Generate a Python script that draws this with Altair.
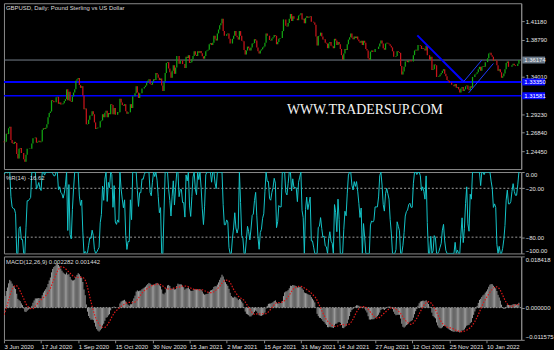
import json
import altair as alt
import numpy as np
import pandas as pd

# ---------------- data ----------------
# daily closes before the visible window (only used so the indicators are warmed up)
warmup_close = [1.2410, 1.2370, 1.2270, 1.2270, 1.2360, 1.2400, 1.2460, 1.2450, 1.2490, 1.2560,
                1.2470, 1.2430, 1.2490, 1.2420, 1.2300, 1.2310, 1.2340, 1.2360, 1.2420, 1.2410,
                1.2430, 1.2590, 1.2490, 1.2440, 1.2430, 1.2340, 1.2380, 1.2410, 1.2340, 1.2280,
                1.2220, 1.2200, 1.2120, 1.2240, 1.2230, 1.2220, 1.2200, 1.2170, 1.2200, 1.2330,
                1.2270, 1.2330, 1.2350, 1.2490, 1.2570]

# visible daily closes, 3 Jun 2020 -> 17 Feb 2022
close_2020 = [
    # Jun
    1.2560, 1.2565, 1.2670, 1.2665, 1.2740, 1.2760, 1.2590, 1.2550, 1.2540, 1.2565,
    1.2550, 1.2410, 1.2350, 1.2475, 1.2485, 1.2420, 1.2420, 1.2340, 1.2310, 1.2400,
    # Jul
    1.2475, 1.2475, 1.2480, 1.2475, 1.2545, 1.2610, 1.2610, 1.2620, 1.2555, 1.2565,
    1.2580, 1.2560, 1.2570, 1.2720, 1.2740, 1.2730, 1.2745, 1.2790, 1.2880, 1.2935,
    1.2955, 1.3100, 1.3090,
    # Aug
    1.3075, 1.3075, 1.3140, 1.3145, 1.3055, 1.3070, 1.3045, 1.3050, 1.3060, 1.3090,
    1.3115, 1.3240, 1.3100, 1.3210, 1.3090, 1.3080, 1.3150, 1.3200, 1.3240, 1.3350,
    1.3370,
    # Sep
    1.3385, 1.3295, 1.3260, 1.3280, 1.3160, 1.2985, 1.2995, 1.2790, 1.2795, 1.2850,
    1.2905, 1.2900, 1.2960, 1.2920, 1.2815, 1.2730, 1.2740, 1.2750, 1.2750, 1.2830,
    1.2840, 1.2920,
    # Oct
    1.2880, 1.2940, 1.2965, 1.2880, 1.2935, 1.2920, 1.3050, 1.3040, 1.2920, 1.3000,
    1.2915, 1.2915, 1.2950, 1.2945, 1.3120, 1.3070, 1.3040, 1.3030, 1.3050, 1.2960,
    1.2925, 1.2945,
    # Nov
    1.2945, 1.3050, 1.3000, 1.3150, 1.3150, 1.3190, 1.3280, 1.3200, 1.3130, 1.3190,
    1.3190, 1.3250, 1.3250, 1.3270, 1.3290, 1.3330, 1.3350, 1.3370, 1.3310, 1.3300,
    1.3340,
    # Dec
    1.3370, 1.3360, 1.3450, 1.3430, 1.3390, 1.3360, 1.3380, 1.3290, 1.3220, 1.3340,
    1.3450, 1.3580, 1.3590, 1.3510, 1.3460, 1.3390, 1.3480, 1.3550, 1.3440, 1.3520,
    1.3670, 1.3670,
]
close_2021 = [
    # Jan
    1.3570, 1.3610, 1.3610, 1.3565, 1.3565, 1.3515, 1.3660, 1.3645, 1.3680, 1.3580,
    1.3590, 1.3630, 1.3670, 1.3730, 1.3685, 1.3670, 1.3730, 1.3710, 1.3735, 1.3705,
    # Feb
    1.3665, 1.3635, 1.3670, 1.3730, 1.3740, 1.3750, 1.3820, 1.3835, 1.3810, 1.3840,
    1.3930, 1.3890, 1.3870, 1.3960, 1.4010, 1.4065, 1.4090, 1.4150, 1.3990, 1.3930,
    # Mar
    1.3930, 1.3950, 1.3960, 1.3890, 1.3830, 1.3830, 1.3890, 1.3930, 1.3990, 1.3930,
    1.3910, 1.3880, 1.3990, 1.3930, 1.3865, 1.3860, 1.3745, 1.3690, 1.3740, 1.3790,
    1.3770, 1.3740, 1.3780,
    # Apr
    1.3830, 1.3835, 1.3885, 1.3870, 1.3780, 1.3730, 1.3700, 1.3740, 1.3755, 1.3780,
    1.3790, 1.3840, 1.3960, 1.3930, 1.3930, 1.3875, 1.3870, 1.3895, 1.3910, 1.3940,
    1.3930, 1.3820,
    # May
    1.3850, 1.3890, 1.3900, 1.3900, 1.3990, 1.4140, 1.4140, 1.4060, 1.4050, 1.4095,
    1.4150, 1.4210, 1.4120, 1.4180, 1.4150, 1.4150, 1.4150, 1.4130, 1.4190, 1.4200,
    1.4220,
    # Jun
    1.4140, 1.4150, 1.4090, 1.4160, 1.4180, 1.4160, 1.4170, 1.4180, 1.4110, 1.4110,
    1.4100, 1.4070, 1.3920, 1.3805, 1.3925, 1.3930, 1.3970, 1.3920, 1.3880, 1.3885,
    1.3840, 1.3830,
    # Jul
    1.3770, 1.3830, 1.3850, 1.3800, 1.3795, 1.3770, 1.3890, 1.3870, 1.3810, 1.3850,
    1.3820, 1.3760, 1.3680, 1.3620, 1.3700, 1.3760, 1.3745, 1.3820, 1.3880, 1.3910,
    1.3960, 1.3905,
    # Aug
    1.3885, 1.3920, 1.3900, 1.3920, 1.3880, 1.3860, 1.3840, 1.3865, 1.3810, 1.3865,
    1.3840, 1.3760, 1.3740, 1.3640, 1.3620, 1.3725, 1.3740, 1.3720, 1.3720, 1.3760,
    1.3760, 1.3760,
    # Sep
    1.3790, 1.3830, 1.3870, 1.3830, 1.3770, 1.3750, 1.3830, 1.3840, 1.3830, 1.3820,
    1.3800, 1.3780, 1.3730, 1.3660, 1.3660, 1.3670, 1.3730, 1.3720, 1.3710, 1.3540,
    1.3430, 1.3470,
    # Oct
    1.3530, 1.3600, 1.3610, 1.3590, 1.3610, 1.3615, 1.3600, 1.3600, 1.3680, 1.3740,
    1.3750, 1.3740, 1.3810, 1.3810, 1.3800, 1.3760, 1.3770, 1.3760, 1.3740, 1.3800,
    1.3680,
    # Nov
    1.3680, 1.3620, 1.3660, 1.3490, 1.3500, 1.3560, 1.3550, 1.3400, 1.3400, 1.3410,
    1.3430, 1.3450, 1.3480, 1.3500, 1.3440, 1.3410, 1.3360, 1.3350, 1.3330, 1.3330,
    1.3300, 1.3300,
    # Dec
    1.3280, 1.3310, 1.3260, 1.3270, 1.3240, 1.3200, 1.3250, 1.3270, 1.3220, 1.3240,
    1.3280, 1.3290, 1.3240, 1.3230, 1.3280, 1.3260, 1.3400, 1.3400, 1.3430, 1.3440,
    1.3460, 1.3500, 1.3530,
]
close_2022 = [
    # Jan
    1.3480, 1.3530, 1.3540, 1.3530, 1.3590, 1.3590, 1.3640, 1.3700, 1.3710, 1.3680,
    1.3660, 1.3610, 1.3620, 1.3610, 1.3550, 1.3480, 1.3500, 1.3460, 1.3390, 1.3410,
    1.3445,
    # Feb
    1.3500, 1.3580, 1.3600, 1.3530, 1.3530, 1.3530, 1.3550, 1.3570, 1.3550, 1.3540,
    1.3540, 1.3570, 1.3617,
]
close = close_2020 + close_2021 + close_2022

date_labels = ["3 Jun 2020", "17 Jul 2020", "1 Sep 2020", "15 Oct 2020", "30 Nov 2020",
               "15 Jan 2021", "2 Mar 2021", "15 Apr 2021", "31 May 2021", "14 Jul 2021",
               "27 Aug 2021", "12 Oct 2021", "25 Nov 2021", "10 Jan 2022"]
bars_per_label = 32

price_ticks = [1.41180, 1.38790, 1.34010, 1.29230, 1.26840, 1.24450]
price_domain = [1.22151, 1.43479]
current_price = 1.36174
thick_level = 1.33350
thin_level = 1.31581

# trend lines: bar index / price of both ends
thick_trend = {"i0": [356.4], "p0": [1.3935], "i1": [396.3], "p1": [1.3339]}
thin_trends = {"i0": [396.3, 400.6], "p0": [1.3339, 1.3194], "i1": [412.0, 422.0], "p1": [1.3616, 1.3573]}

wr_levels = [-20, -80]
wr_ticks = [0, -20, -80, -100]
macd_ticks = [0.018418, 0.0, -0.011575]

title_text = "GBPUSD, Daily:  Pound Sterling vs US Dollar"
wr_text = "%R(14) -16.62"
macd_text = "MACD(12,26,9) 0.002282 0.001442"
watermark = "WWW.TRADERSUP.COM"

# ---------------- indicators (computed from the closes) ----------------
full = pd.Series(warmup_close + close, dtype=float)
n0 = len(warmup_close)
ema12 = full.ewm(span=12, adjust=False).mean()
ema26 = full.ewm(span=26, adjust=False).mean()
macd = ema12 - ema26
signal = macd.rolling(9).mean()
hh = full.rolling(14).max()
ll = full.rolling(14).min()
wr = -100 * (hh - full) / (hh - ll)

df = pd.DataFrame({
    "i": np.arange(len(close)),
    "close": close,
    "open": full.shift(1).values[n0:],
    "macd": macd.values[n0:],
    "signal": signal.values[n0:],
    "wr": wr.values[n0:],
})
df["dir"] = np.where(df["close"] >= df["open"], "up", "down")

# ---------------- styling ----------------
GREEN = "#12a612"
RED = "#c8141a"
CYAN = "#14c4c8"
GREY = "#8a8a8a"
BLUE = "#0000ff"
FONT = "Liberation Sans"
W = 521

xs = alt.Scale(domain=[0, 446], nice=False, zero=False)
X = alt.X("i:Q", scale=xs, axis=None)


def right_axis(values, fmt, baseline=None):
    kw = dict(orient="right", values=values, format=fmt, title=None, grid=False,
              labelColor="#e4e4e4", labelFont=FONT, labelFontSize=6, labelPadding=1,
              tickSize=3, tickColor=GREY, domainColor=GREY, labelOverlap=False,
              labelFlush=False)
    if baseline is not None:
        kw["labelBaseline"] = baseline
    return alt.Axis(**kw)


# ---------------- main price panel ----------------
ps = alt.Scale(domain=price_domain, nice=False, zero=False)
p_axis = right_axis(price_ticks, ".5f")

candles = alt.Chart(df).mark_rule(strokeWidth=1.25).encode(
    x=X,
    y=alt.Y("open:Q", scale=ps, axis=p_axis),
    y2="close:Q",
    color=alt.Color("dir:N", scale=alt.Scale(domain=["up", "down"], range=[GREEN, RED]), legend=None),
)

cur_line = alt.Chart(pd.DataFrame({"price": [current_price]})).mark_rule(
    color="#76808a", strokeWidth=1).encode(y=alt.Y("price:Q", scale=ps, axis=p_axis))

lvl_thick = alt.Chart(pd.DataFrame({"price": [thick_level]})).mark_rule(color=BLUE, strokeWidth=2).encode(
    y=alt.Y("price:Q", scale=ps, axis=p_axis))
lvl_thin = alt.Chart(pd.DataFrame({"price": [thin_level]})).mark_rule(color=BLUE, strokeWidth=1.5).encode(
    y=alt.Y("price:Q", scale=ps, axis=p_axis))

tr_thick = alt.Chart(pd.DataFrame(thick_trend)).mark_rule(color=BLUE, strokeWidth=2).encode(
    x=alt.X("i0:Q", scale=xs, axis=None), x2="i1:Q",
    y=alt.Y("p0:Q", scale=ps, axis=p_axis), y2="p1:Q")
tr_thin = alt.Chart(pd.DataFrame(thin_trends)).mark_rule(color="#1e3cff", strokeWidth=1).encode(
    x=alt.X("i0:Q", scale=xs, axis=None), x2="i1:Q",
    y=alt.Y("p0:Q", scale=ps, axis=p_axis), y2="p1:Q")


def price_box(price, fill, txt_color):
    d = pd.DataFrame({"price": [price], "txt": [f"{price:.5f}"]})
    box = alt.Chart(d).mark_tick(orient="horizontal", size=23, thickness=7, color=fill, opacity=1).encode(
        x=alt.value(533.5), y=alt.Y("price:Q", scale=ps, axis=p_axis))
    txt = alt.Chart(d).mark_text(align="left", baseline="middle", font=FONT, fontSize=6,
                                 color=txt_color).encode(
        x=alt.value(524), y=alt.Y("price:Q", scale=ps, axis=p_axis), text="txt:N")
    return [box, txt]


title = alt.Chart(pd.DataFrame({"t": [title_text]})).mark_text(
    align="left", baseline="middle", font=FONT, fontSize=6, color="#dcdcdc").encode(
    x=alt.value(2), y=alt.value(5), text="t:N")

wm = alt.Chart(pd.DataFrame({"t": [watermark]})).mark_text(
    align="left", baseline="alphabetic", font="Liberation Serif", fontSize=14, color="#f4f4f4").encode(
    x=alt.value(285), y=alt.value(112), text="t:N")

main = alt.layer(
    cur_line, lvl_thick, lvl_thin, candles, tr_thick, tr_thin, wm, title,
    *price_box(current_price, "#6a7888", "#f0f0f0"),
    *price_box(thick_level, "#0a0aff", "#ffffff"),
    *price_box(thin_level, "#0a0aff", "#ffffff"),
).properties(width=W, height=167)

# ---------------- Williams %R panel ----------------
wr_scale = alt.Scale(domain=[-100, 0], nice=False, zero=False)
wr_base = {"condition": [{"test": "datum.value >= 0", "value": "top"},
                         {"test": "datum.value <= -100", "value": "bottom"}],
           "value": "middle"}
wr_axis = right_axis(wr_ticks, ".2f", wr_base)
wr_line = alt.Chart(df).mark_line(color=CYAN, strokeWidth=1, clip=True).encode(
    x=X, y=alt.Y("wr:Q", scale=wr_scale, axis=wr_axis))
wr_lv = alt.Chart(pd.DataFrame({"v": wr_levels})).mark_rule(
    color="#9a9a9a", strokeDash=[2, 2], strokeWidth=1).encode(y=alt.Y("v:Q", scale=wr_scale, axis=wr_axis))
wr_lab = alt.Chart(pd.DataFrame({"t": [wr_text]})).mark_text(
    align="left", baseline="middle", font=FONT, fontSize=6, color="#dcdcdc").encode(
    x=alt.value(2), y=alt.value(6), text="t:N")
wr_panel = alt.layer(wr_lv, wr_line, wr_lab).properties(width=W, height=82)

# ---------------- MACD panel ----------------
m_scale = alt.Scale(domain=[macd_ticks[-1], macd_ticks[0]], nice=False, zero=False)
m_base = {"condition": [{"test": "datum.value > 0.01", "value": "top"},
                        {"test": "datum.value < -0.005", "value": "bottom"}],
          "value": "middle"}
m_axis = right_axis(macd_ticks, ".6f", m_base)
x_axis = alt.Axis(values=[k * bars_per_label for k in range(len(date_labels))],
                  labelExpr=f"{json.dumps(date_labels)}[round(datum.value / {bars_per_label})]",
                  labelAlign="left", labelBaseline="top", labelPadding=1, labelFont=FONT,
                  labelFontSize=6, labelColor="#e4e4e4", tickSize=3, tickColor=GREY,
                  domain=False, grid=False, title=None, labelOverlap=False, labelFlush=False)
XM = alt.X("i:Q", scale=xs, axis=x_axis)
hist = alt.Chart(df).mark_rule(color="#9c9c9c", strokeWidth=1, clip=True).encode(
    x=XM,
    y=alt.Y("macd:Q", scale=m_scale, axis=m_axis),
    y2=alt.datum(0),
)
sig = alt.Chart(df).mark_line(color="#e01818", strokeDash=[1.5, 1.5], strokeWidth=1.2, clip=True).encode(
    x=XM, y=alt.Y("signal:Q", scale=m_scale, axis=m_axis))
zero = alt.Chart(pd.DataFrame({"v": [0.0]})).mark_rule(
    color="#9a9a9a", strokeDash=[1.5, 1.5], strokeWidth=1).encode(y=alt.Y("v:Q", scale=m_scale, axis=m_axis))
m_lab = alt.Chart(pd.DataFrame({"t": [macd_text]})).mark_text(
    align="left", baseline="middle", font=FONT, fontSize=6, color="#dcdcdc").encode(
    x=alt.value(2), y=alt.value(6), text="t:N")
macd_panel = alt.layer(hist, zero, sig, m_lab).properties(width=W, height=84)

chart = alt.vconcat(main, wr_panel, macd_panel, spacing=1).resolve_scale(
    x="independent", y="independent", color="independent"
).properties(
    padding={"left": 2, "top": 1, "right": 0, "bottom": 0},
    background="#000000",
).configure_view(stroke=GREY, strokeWidth=1, fill="#000000").configure_axis(labelOverlap=False)

chart.save("out.html", embed_options={"renderer": "svg", "actions": False})
